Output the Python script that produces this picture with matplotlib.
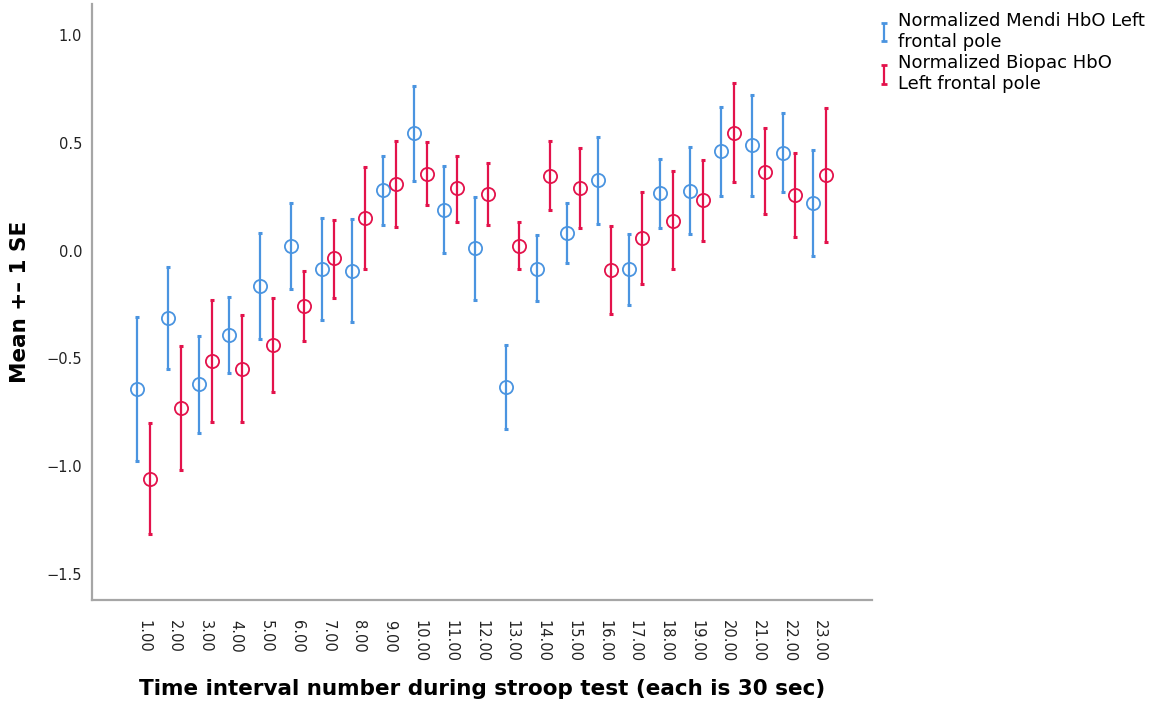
import numpy as np
import matplotlib
matplotlib.use("Agg")
import matplotlib.pyplot as plt

# intervalos de tiempo (cada uno 30 s)
intervalos = list(range(1, 24))
etiquetas = [f"{i}.00" for i in intervalos]

# Mendi HbO (media, limite superior, limite inferior)
mendi_media = [-0.640, -0.312, -0.621, -0.392, -0.163, 0.022, -0.087, -0.094, 0.281, 0.544,
               0.188, 0.010, -0.632, -0.083, 0.080, 0.327, -0.087, 0.266, 0.276, 0.463,
               0.490, 0.454, 0.219]
mendi_sup = [-0.307, -0.078, -0.395, -0.214, 0.083, 0.222, 0.149, 0.145, 0.439, 0.765,
             0.392, 0.250, -0.439, 0.072, 0.219, 0.528, 0.075, 0.425, 0.479, 0.668,
             0.722, 0.637, 0.467]
mendi_inf = [-0.977, -0.547, -0.846, -0.570, -0.411, -0.176, -0.323, -0.330, 0.118, 0.323,
             -0.013, -0.230, -0.826, -0.234, -0.059, 0.123, -0.250, 0.103, 0.075, 0.254,
             0.254, 0.270, -0.024]

# Biopac HbO
biopac_media = [-1.058, -0.730, -0.511, -0.550, -0.439, -0.258, -0.036, 0.152, 0.309, 0.355,
                0.289, 0.261, 0.022, 0.346, 0.292, -0.091, 0.057, 0.138, 0.234, 0.547,
                0.366, 0.258, 0.350]
biopac_sup = [-0.799, -0.442, -0.230, -0.299, -0.222, -0.095, 0.142, 0.389, 0.508, 0.502,
              0.439, 0.405, 0.134, 0.508, 0.474, 0.115, 0.273, 0.369, 0.420, 0.779,
              0.570, 0.454, 0.663]
biopac_inf = [-1.313, -1.019, -0.796, -0.796, -0.655, -0.419, -0.219, -0.087, 0.110, 0.211,
              0.134, 0.118, -0.087, 0.188, 0.103, -0.296, -0.157, -0.087, 0.044, 0.317,
              0.168, 0.064, 0.038]

AZUL = "#4a94e0"
ROJO = "#e3124b"

fig = plt.figure(figsize=(11.54, 7.02), dpi=100)
ax = fig.add_axes([0.0797, 0.1446, 0.6759, 0.8497])

x = np.array(intervalos, dtype=float)
desp = 0.21


def dibujar(xs, media, sup, inf, color):
    media = np.array(media)
    err = [media - np.array(inf), np.array(sup) - media]
    ax.errorbar(xs, media, yerr=err, fmt="none", ecolor=color, elinewidth=1.6,
                capsize=1.3, capthick=2.2)
    ax.plot(xs, media, "o", ms=9.5, mfc="none", mec=color, mew=1.3, ls="none")


dibujar(x - desp, mendi_media, mendi_sup, mendi_inf, AZUL)
dibujar(x + desp, biopac_media, biopac_sup, biopac_inf, ROJO)

ax.set_xlim(1 - 1.68, 23 + 1.70)
ax.set_ylim(-1.623, 1.144)
ax.set_xticks(x)
ax.set_xticklabels(etiquetas, rotation=-90, fontsize=10.5, color="#222222")
ax.set_yticks([-1.5, -1.0, -0.5, 0.0, 0.5, 1.0])
ax.set_yticklabels(["\u22121.5", "\u22121.0", "\u22120.5", "0.0", "0.5", "1.0"],
                   fontsize=10.5, color="#222222")
ax.tick_params(axis="both", length=0)
ax.tick_params(axis="x", pad=14)
ax.tick_params(axis="y", pad=7)

for lado in ["top", "right"]:
    ax.spines[lado].set_visible(False)
for lado in ["left", "bottom"]:
    ax.spines[lado].set_color("#a6a6a6")
    ax.spines[lado].set_linewidth(1.6)

ax.set_xlabel("Time interval number during stroop test (each is 30 sec)",
              fontsize=15.5, fontweight="bold", labelpad=12)
ax.set_ylabel("Mean +\u2013 1 SE", fontsize=15.5, fontweight="bold", labelpad=12)

# leyenda con solo la barra de error
h1 = ax.errorbar([np.nan], [np.nan], yerr=[[0.1]], fmt="none", ecolor=AZUL,
                 elinewidth=1.6, capsize=2, capthick=2)
h2 = ax.errorbar([np.nan], [np.nan], yerr=[[0.1]], fmt="none", ecolor=ROJO,
                 elinewidth=1.6, capsize=2, capthick=2)
fig.legend([h1, h2], ["Normalized Mendi HbO Left\nfrontal pole",
                      "Normalized Biopac HbO\nLeft frontal pole"],
           loc="upper left", bbox_to_anchor=(0.752, 1.0), frameon=False,
           fontsize=13, handlelength=0.5, handleheight=0.6, handletextpad=0.5,
           labelspacing=0.2, borderaxespad=0.25)

fig.savefig("out.png", dpi=100)
